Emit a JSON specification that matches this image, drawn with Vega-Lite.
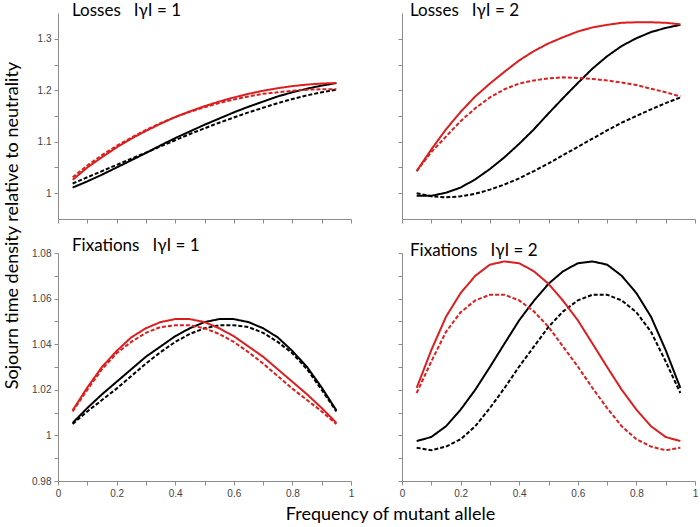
{
"$schema": "https://vega.github.io/schema/vega-lite/v6.json",
"padding": {"left": 3, "top": 2, "right": 2, "bottom": 2},
"background": "white",
"datasets": {
"curves": [
{"event":"Losses","gamma":1,"group":"B","method":"exact","freq":0.05,"density":1.011},
{"event":"Losses","gamma":1,"group":"B","method":"exact","freq":0.1,"density":1.023},
{"event":"Losses","gamma":1,"group":"B","method":"exact","freq":0.15,"density":1.036},
{"event":"Losses","gamma":1,"group":"B","method":"exact","freq":0.2,"density":1.05},
{"event":"Losses","gamma":1,"group":"B","method":"exact","freq":0.25,"density":1.064},
{"event":"Losses","gamma":1,"group":"B","method":"exact","freq":0.3,"density":1.078},
{"event":"Losses","gamma":1,"group":"B","method":"exact","freq":0.35,"density":1.093},
{"event":"Losses","gamma":1,"group":"B","method":"exact","freq":0.4,"density":1.107},
{"event":"Losses","gamma":1,"group":"B","method":"exact","freq":0.45,"density":1.12},
{"event":"Losses","gamma":1,"group":"B","method":"exact","freq":0.5,"density":1.133},
{"event":"Losses","gamma":1,"group":"B","method":"exact","freq":0.55,"density":1.145},
{"event":"Losses","gamma":1,"group":"B","method":"exact","freq":0.6,"density":1.157},
{"event":"Losses","gamma":1,"group":"B","method":"exact","freq":0.65,"density":1.168},
{"event":"Losses","gamma":1,"group":"B","method":"exact","freq":0.7,"density":1.178},
{"event":"Losses","gamma":1,"group":"B","method":"exact","freq":0.75,"density":1.188},
{"event":"Losses","gamma":1,"group":"B","method":"exact","freq":0.8,"density":1.196},
{"event":"Losses","gamma":1,"group":"B","method":"exact","freq":0.85,"density":1.203},
{"event":"Losses","gamma":1,"group":"B","method":"exact","freq":0.9,"density":1.209},
{"event":"Losses","gamma":1,"group":"B","method":"exact","freq":0.95,"density":1.214},
{"event":"Losses","gamma":1,"group":"B","method":"approx","freq":0.05,"density":1.019},
{"event":"Losses","gamma":1,"group":"B","method":"approx","freq":0.1,"density":1.031},
{"event":"Losses","gamma":1,"group":"B","method":"approx","freq":0.15,"density":1.043},
{"event":"Losses","gamma":1,"group":"B","method":"approx","freq":0.2,"density":1.055},
{"event":"Losses","gamma":1,"group":"B","method":"approx","freq":0.25,"density":1.067},
{"event":"Losses","gamma":1,"group":"B","method":"approx","freq":0.3,"density":1.079},
{"event":"Losses","gamma":1,"group":"B","method":"approx","freq":0.35,"density":1.091},
{"event":"Losses","gamma":1,"group":"B","method":"approx","freq":0.4,"density":1.103},
{"event":"Losses","gamma":1,"group":"B","method":"approx","freq":0.45,"density":1.115},
{"event":"Losses","gamma":1,"group":"B","method":"approx","freq":0.5,"density":1.126},
{"event":"Losses","gamma":1,"group":"B","method":"approx","freq":0.55,"density":1.137},
{"event":"Losses","gamma":1,"group":"B","method":"approx","freq":0.6,"density":1.147},
{"event":"Losses","gamma":1,"group":"B","method":"approx","freq":0.65,"density":1.157},
{"event":"Losses","gamma":1,"group":"B","method":"approx","freq":0.7,"density":1.166},
{"event":"Losses","gamma":1,"group":"B","method":"approx","freq":0.75,"density":1.175},
{"event":"Losses","gamma":1,"group":"B","method":"approx","freq":0.8,"density":1.183},
{"event":"Losses","gamma":1,"group":"B","method":"approx","freq":0.85,"density":1.19},
{"event":"Losses","gamma":1,"group":"B","method":"approx","freq":0.9,"density":1.196},
{"event":"Losses","gamma":1,"group":"B","method":"approx","freq":0.95,"density":1.201},
{"event":"Losses","gamma":1,"group":"A","method":"exact","freq":0.05,"density":1.026},
{"event":"Losses","gamma":1,"group":"A","method":"exact","freq":0.1,"density":1.05},
{"event":"Losses","gamma":1,"group":"A","method":"exact","freq":0.15,"density":1.07},
{"event":"Losses","gamma":1,"group":"A","method":"exact","freq":0.2,"density":1.089},
{"event":"Losses","gamma":1,"group":"A","method":"exact","freq":0.25,"density":1.106},
{"event":"Losses","gamma":1,"group":"A","method":"exact","freq":0.3,"density":1.121},
{"event":"Losses","gamma":1,"group":"A","method":"exact","freq":0.35,"density":1.135},
{"event":"Losses","gamma":1,"group":"A","method":"exact","freq":0.4,"density":1.148},
{"event":"Losses","gamma":1,"group":"A","method":"exact","freq":0.45,"density":1.159},
{"event":"Losses","gamma":1,"group":"A","method":"exact","freq":0.5,"density":1.169},
{"event":"Losses","gamma":1,"group":"A","method":"exact","freq":0.55,"density":1.178},
{"event":"Losses","gamma":1,"group":"A","method":"exact","freq":0.6,"density":1.186},
{"event":"Losses","gamma":1,"group":"A","method":"exact","freq":0.65,"density":1.193},
{"event":"Losses","gamma":1,"group":"A","method":"exact","freq":0.7,"density":1.199},
{"event":"Losses","gamma":1,"group":"A","method":"exact","freq":0.75,"density":1.204},
{"event":"Losses","gamma":1,"group":"A","method":"exact","freq":0.8,"density":1.208},
{"event":"Losses","gamma":1,"group":"A","method":"exact","freq":0.85,"density":1.211},
{"event":"Losses","gamma":1,"group":"A","method":"exact","freq":0.9,"density":1.213},
{"event":"Losses","gamma":1,"group":"A","method":"exact","freq":0.95,"density":1.214},
{"event":"Losses","gamma":1,"group":"A","method":"approx","freq":0.05,"density":1.031},
{"event":"Losses","gamma":1,"group":"A","method":"approx","freq":0.1,"density":1.054},
{"event":"Losses","gamma":1,"group":"A","method":"approx","freq":0.15,"density":1.074},
{"event":"Losses","gamma":1,"group":"A","method":"approx","freq":0.2,"density":1.092},
{"event":"Losses","gamma":1,"group":"A","method":"approx","freq":0.25,"density":1.108},
{"event":"Losses","gamma":1,"group":"A","method":"approx","freq":0.3,"density":1.123},
{"event":"Losses","gamma":1,"group":"A","method":"approx","freq":0.35,"density":1.136},
{"event":"Losses","gamma":1,"group":"A","method":"approx","freq":0.4,"density":1.148},
{"event":"Losses","gamma":1,"group":"A","method":"approx","freq":0.45,"density":1.158},
{"event":"Losses","gamma":1,"group":"A","method":"approx","freq":0.5,"density":1.167},
{"event":"Losses","gamma":1,"group":"A","method":"approx","freq":0.55,"density":1.175},
{"event":"Losses","gamma":1,"group":"A","method":"approx","freq":0.6,"density":1.182},
{"event":"Losses","gamma":1,"group":"A","method":"approx","freq":0.65,"density":1.188},
{"event":"Losses","gamma":1,"group":"A","method":"approx","freq":0.7,"density":1.193},
{"event":"Losses","gamma":1,"group":"A","method":"approx","freq":0.75,"density":1.196},
{"event":"Losses","gamma":1,"group":"A","method":"approx","freq":0.8,"density":1.199},
{"event":"Losses","gamma":1,"group":"A","method":"approx","freq":0.85,"density":1.201},
{"event":"Losses","gamma":1,"group":"A","method":"approx","freq":0.9,"density":1.202},
{"event":"Losses","gamma":1,"group":"A","method":"approx","freq":0.95,"density":1.202},
{"event":"Losses","gamma":2,"group":"B","method":"exact","freq":0.05,"density":0.995},
{"event":"Losses","gamma":2,"group":"B","method":"exact","freq":0.1,"density":0.995},
{"event":"Losses","gamma":2,"group":"B","method":"exact","freq":0.15,"density":1.001},
{"event":"Losses","gamma":2,"group":"B","method":"exact","freq":0.2,"density":1.011},
{"event":"Losses","gamma":2,"group":"B","method":"exact","freq":0.25,"density":1.027},
{"event":"Losses","gamma":2,"group":"B","method":"exact","freq":0.3,"density":1.047},
{"event":"Losses","gamma":2,"group":"B","method":"exact","freq":0.35,"density":1.07},
{"event":"Losses","gamma":2,"group":"B","method":"exact","freq":0.4,"density":1.096},
{"event":"Losses","gamma":2,"group":"B","method":"exact","freq":0.45,"density":1.124},
{"event":"Losses","gamma":2,"group":"B","method":"exact","freq":0.5,"density":1.155},
{"event":"Losses","gamma":2,"group":"B","method":"exact","freq":0.55,"density":1.185},
{"event":"Losses","gamma":2,"group":"B","method":"exact","freq":0.6,"density":1.214},
{"event":"Losses","gamma":2,"group":"B","method":"exact","freq":0.65,"density":1.242},
{"event":"Losses","gamma":2,"group":"B","method":"exact","freq":0.7,"density":1.266},
{"event":"Losses","gamma":2,"group":"B","method":"exact","freq":0.75,"density":1.286},
{"event":"Losses","gamma":2,"group":"B","method":"exact","freq":0.8,"density":1.301},
{"event":"Losses","gamma":2,"group":"B","method":"exact","freq":0.85,"density":1.313},
{"event":"Losses","gamma":2,"group":"B","method":"exact","freq":0.9,"density":1.321},
{"event":"Losses","gamma":2,"group":"B","method":"exact","freq":0.95,"density":1.327},
{"event":"Losses","gamma":2,"group":"B","method":"approx","freq":0.05,"density":1.0},
{"event":"Losses","gamma":2,"group":"B","method":"approx","freq":0.1,"density":0.994},
{"event":"Losses","gamma":2,"group":"B","method":"approx","freq":0.15,"density":0.992},
{"event":"Losses","gamma":2,"group":"B","method":"approx","freq":0.2,"density":0.994},
{"event":"Losses","gamma":2,"group":"B","method":"approx","freq":0.25,"density":0.999},
{"event":"Losses","gamma":2,"group":"B","method":"approx","freq":0.3,"density":1.007},
{"event":"Losses","gamma":2,"group":"B","method":"approx","freq":0.35,"density":1.017},
{"event":"Losses","gamma":2,"group":"B","method":"approx","freq":0.4,"density":1.029},
{"event":"Losses","gamma":2,"group":"B","method":"approx","freq":0.45,"density":1.043},
{"event":"Losses","gamma":2,"group":"B","method":"approx","freq":0.5,"density":1.058},
{"event":"Losses","gamma":2,"group":"B","method":"approx","freq":0.55,"density":1.074},
{"event":"Losses","gamma":2,"group":"B","method":"approx","freq":0.6,"density":1.09},
{"event":"Losses","gamma":2,"group":"B","method":"approx","freq":0.65,"density":1.106},
{"event":"Losses","gamma":2,"group":"B","method":"approx","freq":0.7,"density":1.122},
{"event":"Losses","gamma":2,"group":"B","method":"approx","freq":0.75,"density":1.137},
{"event":"Losses","gamma":2,"group":"B","method":"approx","freq":0.8,"density":1.15},
{"event":"Losses","gamma":2,"group":"B","method":"approx","freq":0.85,"density":1.163},
{"event":"Losses","gamma":2,"group":"B","method":"approx","freq":0.9,"density":1.175},
{"event":"Losses","gamma":2,"group":"B","method":"approx","freq":0.95,"density":1.186},
{"event":"Losses","gamma":2,"group":"A","method":"exact","freq":0.05,"density":1.043},
{"event":"Losses","gamma":2,"group":"A","method":"exact","freq":0.1,"density":1.085},
{"event":"Losses","gamma":2,"group":"A","method":"exact","freq":0.15,"density":1.124},
{"event":"Losses","gamma":2,"group":"A","method":"exact","freq":0.2,"density":1.158},
{"event":"Losses","gamma":2,"group":"A","method":"exact","freq":0.25,"density":1.188},
{"event":"Losses","gamma":2,"group":"A","method":"exact","freq":0.3,"density":1.213},
{"event":"Losses","gamma":2,"group":"A","method":"exact","freq":0.35,"density":1.236},
{"event":"Losses","gamma":2,"group":"A","method":"exact","freq":0.4,"density":1.258},
{"event":"Losses","gamma":2,"group":"A","method":"exact","freq":0.45,"density":1.276},
{"event":"Losses","gamma":2,"group":"A","method":"exact","freq":0.5,"density":1.291},
{"event":"Losses","gamma":2,"group":"A","method":"exact","freq":0.55,"density":1.303},
{"event":"Losses","gamma":2,"group":"A","method":"exact","freq":0.6,"density":1.314},
{"event":"Losses","gamma":2,"group":"A","method":"exact","freq":0.65,"density":1.322},
{"event":"Losses","gamma":2,"group":"A","method":"exact","freq":0.7,"density":1.327},
{"event":"Losses","gamma":2,"group":"A","method":"exact","freq":0.75,"density":1.331},
{"event":"Losses","gamma":2,"group":"A","method":"exact","freq":0.8,"density":1.332},
{"event":"Losses","gamma":2,"group":"A","method":"exact","freq":0.85,"density":1.332},
{"event":"Losses","gamma":2,"group":"A","method":"exact","freq":0.9,"density":1.331},
{"event":"Losses","gamma":2,"group":"A","method":"exact","freq":0.95,"density":1.328},
{"event":"Losses","gamma":2,"group":"A","method":"approx","freq":0.05,"density":1.043},
{"event":"Losses","gamma":2,"group":"A","method":"approx","freq":0.1,"density":1.08},
{"event":"Losses","gamma":2,"group":"A","method":"approx","freq":0.15,"density":1.11},
{"event":"Losses","gamma":2,"group":"A","method":"approx","freq":0.2,"density":1.14},
{"event":"Losses","gamma":2,"group":"A","method":"approx","freq":0.25,"density":1.165},
{"event":"Losses","gamma":2,"group":"A","method":"approx","freq":0.3,"density":1.186},
{"event":"Losses","gamma":2,"group":"A","method":"approx","freq":0.35,"density":1.202},
{"event":"Losses","gamma":2,"group":"A","method":"approx","freq":0.4,"density":1.213},
{"event":"Losses","gamma":2,"group":"A","method":"approx","freq":0.45,"density":1.219},
{"event":"Losses","gamma":2,"group":"A","method":"approx","freq":0.5,"density":1.223},
{"event":"Losses","gamma":2,"group":"A","method":"approx","freq":0.55,"density":1.225},
{"event":"Losses","gamma":2,"group":"A","method":"approx","freq":0.6,"density":1.224},
{"event":"Losses","gamma":2,"group":"A","method":"approx","freq":0.65,"density":1.222},
{"event":"Losses","gamma":2,"group":"A","method":"approx","freq":0.7,"density":1.219},
{"event":"Losses","gamma":2,"group":"A","method":"approx","freq":0.75,"density":1.215},
{"event":"Losses","gamma":2,"group":"A","method":"approx","freq":0.8,"density":1.21},
{"event":"Losses","gamma":2,"group":"A","method":"approx","freq":0.85,"density":1.203},
{"event":"Losses","gamma":2,"group":"A","method":"approx","freq":0.9,"density":1.196},
{"event":"Losses","gamma":2,"group":"A","method":"approx","freq":0.95,"density":1.188},
{"event":"Fixations","gamma":1,"group":"B","method":"exact","freq":0.05,"density":1.0055},
{"event":"Fixations","gamma":1,"group":"B","method":"exact","freq":0.1,"density":1.012},
{"event":"Fixations","gamma":1,"group":"B","method":"exact","freq":0.15,"density":1.018},
{"event":"Fixations","gamma":1,"group":"B","method":"exact","freq":0.2,"density":1.0235},
{"event":"Fixations","gamma":1,"group":"B","method":"exact","freq":0.25,"density":1.029},
{"event":"Fixations","gamma":1,"group":"B","method":"exact","freq":0.3,"density":1.0345},
{"event":"Fixations","gamma":1,"group":"B","method":"exact","freq":0.35,"density":1.039},
{"event":"Fixations","gamma":1,"group":"B","method":"exact","freq":0.4,"density":1.0435},
{"event":"Fixations","gamma":1,"group":"B","method":"exact","freq":0.45,"density":1.047},
{"event":"Fixations","gamma":1,"group":"B","method":"exact","freq":0.5,"density":1.0497},
{"event":"Fixations","gamma":1,"group":"B","method":"exact","freq":0.55,"density":1.051},
{"event":"Fixations","gamma":1,"group":"B","method":"exact","freq":0.6,"density":1.051},
{"event":"Fixations","gamma":1,"group":"B","method":"exact","freq":0.65,"density":1.0497},
{"event":"Fixations","gamma":1,"group":"B","method":"exact","freq":0.7,"density":1.047},
{"event":"Fixations","gamma":1,"group":"B","method":"exact","freq":0.75,"density":1.043},
{"event":"Fixations","gamma":1,"group":"B","method":"exact","freq":0.8,"density":1.037},
{"event":"Fixations","gamma":1,"group":"B","method":"exact","freq":0.85,"density":1.03},
{"event":"Fixations","gamma":1,"group":"B","method":"exact","freq":0.9,"density":1.021},
{"event":"Fixations","gamma":1,"group":"B","method":"exact","freq":0.95,"density":1.011},
{"event":"Fixations","gamma":1,"group":"B","method":"approx","freq":0.05,"density":1.005},
{"event":"Fixations","gamma":1,"group":"B","method":"approx","freq":0.1,"density":1.0105},
{"event":"Fixations","gamma":1,"group":"B","method":"approx","freq":0.15,"density":1.0155},
{"event":"Fixations","gamma":1,"group":"B","method":"approx","freq":0.2,"density":1.0205},
{"event":"Fixations","gamma":1,"group":"B","method":"approx","freq":0.25,"density":1.026},
{"event":"Fixations","gamma":1,"group":"B","method":"approx","freq":0.3,"density":1.0315},
{"event":"Fixations","gamma":1,"group":"B","method":"approx","freq":0.35,"density":1.0365},
{"event":"Fixations","gamma":1,"group":"B","method":"approx","freq":0.4,"density":1.041},
{"event":"Fixations","gamma":1,"group":"B","method":"approx","freq":0.45,"density":1.0445},
{"event":"Fixations","gamma":1,"group":"B","method":"approx","freq":0.5,"density":1.047},
{"event":"Fixations","gamma":1,"group":"B","method":"approx","freq":0.55,"density":1.0483},
{"event":"Fixations","gamma":1,"group":"B","method":"approx","freq":0.6,"density":1.0483},
{"event":"Fixations","gamma":1,"group":"B","method":"approx","freq":0.65,"density":1.0475},
{"event":"Fixations","gamma":1,"group":"B","method":"approx","freq":0.7,"density":1.045},
{"event":"Fixations","gamma":1,"group":"B","method":"approx","freq":0.75,"density":1.041},
{"event":"Fixations","gamma":1,"group":"B","method":"approx","freq":0.8,"density":1.036},
{"event":"Fixations","gamma":1,"group":"B","method":"approx","freq":0.85,"density":1.029},
{"event":"Fixations","gamma":1,"group":"B","method":"approx","freq":0.9,"density":1.02},
{"event":"Fixations","gamma":1,"group":"B","method":"approx","freq":0.95,"density":1.0105},
{"event":"Fixations","gamma":1,"group":"A","method":"exact","freq":0.05,"density":1.011},
{"event":"Fixations","gamma":1,"group":"A","method":"exact","freq":0.1,"density":1.021},
{"event":"Fixations","gamma":1,"group":"A","method":"exact","freq":0.15,"density":1.03},
{"event":"Fixations","gamma":1,"group":"A","method":"exact","freq":0.2,"density":1.037},
{"event":"Fixations","gamma":1,"group":"A","method":"exact","freq":0.25,"density":1.043},
{"event":"Fixations","gamma":1,"group":"A","method":"exact","freq":0.3,"density":1.047},
{"event":"Fixations","gamma":1,"group":"A","method":"exact","freq":0.35,"density":1.0497},
{"event":"Fixations","gamma":1,"group":"A","method":"exact","freq":0.4,"density":1.051},
{"event":"Fixations","gamma":1,"group":"A","method":"exact","freq":0.45,"density":1.051},
{"event":"Fixations","gamma":1,"group":"A","method":"exact","freq":0.5,"density":1.0497},
{"event":"Fixations","gamma":1,"group":"A","method":"exact","freq":0.55,"density":1.047},
{"event":"Fixations","gamma":1,"group":"A","method":"exact","freq":0.6,"density":1.0435},
{"event":"Fixations","gamma":1,"group":"A","method":"exact","freq":0.65,"density":1.039},
{"event":"Fixations","gamma":1,"group":"A","method":"exact","freq":0.7,"density":1.0345},
{"event":"Fixations","gamma":1,"group":"A","method":"exact","freq":0.75,"density":1.029},
{"event":"Fixations","gamma":1,"group":"A","method":"exact","freq":0.8,"density":1.0235},
{"event":"Fixations","gamma":1,"group":"A","method":"exact","freq":0.85,"density":1.018},
{"event":"Fixations","gamma":1,"group":"A","method":"exact","freq":0.9,"density":1.012},
{"event":"Fixations","gamma":1,"group":"A","method":"exact","freq":0.95,"density":1.0055},
{"event":"Fixations","gamma":1,"group":"A","method":"approx","freq":0.05,"density":1.0105},
{"event":"Fixations","gamma":1,"group":"A","method":"approx","freq":0.1,"density":1.02},
{"event":"Fixations","gamma":1,"group":"A","method":"approx","freq":0.15,"density":1.029},
{"event":"Fixations","gamma":1,"group":"A","method":"approx","freq":0.2,"density":1.036},
{"event":"Fixations","gamma":1,"group":"A","method":"approx","freq":0.25,"density":1.041},
{"event":"Fixations","gamma":1,"group":"A","method":"approx","freq":0.3,"density":1.045},
{"event":"Fixations","gamma":1,"group":"A","method":"approx","freq":0.35,"density":1.0475},
{"event":"Fixations","gamma":1,"group":"A","method":"approx","freq":0.4,"density":1.0483},
{"event":"Fixations","gamma":1,"group":"A","method":"approx","freq":0.45,"density":1.0483},
{"event":"Fixations","gamma":1,"group":"A","method":"approx","freq":0.5,"density":1.047},
{"event":"Fixations","gamma":1,"group":"A","method":"approx","freq":0.55,"density":1.0445},
{"event":"Fixations","gamma":1,"group":"A","method":"approx","freq":0.6,"density":1.041},
{"event":"Fixations","gamma":1,"group":"A","method":"approx","freq":0.65,"density":1.0365},
{"event":"Fixations","gamma":1,"group":"A","method":"approx","freq":0.7,"density":1.0315},
{"event":"Fixations","gamma":1,"group":"A","method":"approx","freq":0.75,"density":1.026},
{"event":"Fixations","gamma":1,"group":"A","method":"approx","freq":0.8,"density":1.0205},
{"event":"Fixations","gamma":1,"group":"A","method":"approx","freq":0.85,"density":1.0155},
{"event":"Fixations","gamma":1,"group":"A","method":"approx","freq":0.9,"density":1.0105},
{"event":"Fixations","gamma":1,"group":"A","method":"approx","freq":0.95,"density":1.005},
{"event":"Fixations","gamma":2,"group":"B","method":"exact","freq":0.05,"density":0.9975},
{"event":"Fixations","gamma":2,"group":"B","method":"exact","freq":0.1,"density":0.9993},
{"event":"Fixations","gamma":2,"group":"B","method":"exact","freq":0.15,"density":1.004},
{"event":"Fixations","gamma":2,"group":"B","method":"exact","freq":0.2,"density":1.0113},
{"event":"Fixations","gamma":2,"group":"B","method":"exact","freq":0.25,"density":1.02},
{"event":"Fixations","gamma":2,"group":"B","method":"exact","freq":0.3,"density":1.03},
{"event":"Fixations","gamma":2,"group":"B","method":"exact","freq":0.35,"density":1.0403},
{"event":"Fixations","gamma":2,"group":"B","method":"exact","freq":0.4,"density":1.0505},
{"event":"Fixations","gamma":2,"group":"B","method":"exact","freq":0.45,"density":1.059},
{"event":"Fixations","gamma":2,"group":"B","method":"exact","freq":0.5,"density":1.0665},
{"event":"Fixations","gamma":2,"group":"B","method":"exact","freq":0.55,"density":1.072},
{"event":"Fixations","gamma":2,"group":"B","method":"exact","freq":0.6,"density":1.0755},
{"event":"Fixations","gamma":2,"group":"B","method":"exact","freq":0.65,"density":1.0763},
{"event":"Fixations","gamma":2,"group":"B","method":"exact","freq":0.7,"density":1.0749},
{"event":"Fixations","gamma":2,"group":"B","method":"exact","freq":0.75,"density":1.07},
{"event":"Fixations","gamma":2,"group":"B","method":"exact","freq":0.8,"density":1.0624},
{"event":"Fixations","gamma":2,"group":"B","method":"exact","freq":0.85,"density":1.052},
{"event":"Fixations","gamma":2,"group":"B","method":"exact","freq":0.9,"density":1.0374},
{"event":"Fixations","gamma":2,"group":"B","method":"exact","freq":0.95,"density":1.0208},
{"event":"Fixations","gamma":2,"group":"B","method":"approx","freq":0.05,"density":0.9946},
{"event":"Fixations","gamma":2,"group":"B","method":"approx","freq":0.1,"density":0.9935},
{"event":"Fixations","gamma":2,"group":"B","method":"approx","freq":0.15,"density":0.9951},
{"event":"Fixations","gamma":2,"group":"B","method":"approx","freq":0.2,"density":0.9983},
{"event":"Fixations","gamma":2,"group":"B","method":"approx","freq":0.25,"density":1.004},
{"event":"Fixations","gamma":2,"group":"B","method":"approx","freq":0.3,"density":1.012},
{"event":"Fixations","gamma":2,"group":"B","method":"approx","freq":0.35,"density":1.0208},
{"event":"Fixations","gamma":2,"group":"B","method":"approx","freq":0.4,"density":1.0302},
{"event":"Fixations","gamma":2,"group":"B","method":"approx","freq":0.45,"density":1.0389},
{"event":"Fixations","gamma":2,"group":"B","method":"approx","freq":0.5,"density":1.0476},
{"event":"Fixations","gamma":2,"group":"B","method":"approx","freq":0.55,"density":1.0544},
{"event":"Fixations","gamma":2,"group":"B","method":"approx","freq":0.6,"density":1.0592},
{"event":"Fixations","gamma":2,"group":"B","method":"approx","freq":0.65,"density":1.0617},
{"event":"Fixations","gamma":2,"group":"B","method":"approx","freq":0.7,"density":1.0617},
{"event":"Fixations","gamma":2,"group":"B","method":"approx","freq":0.75,"density":1.0592},
{"event":"Fixations","gamma":2,"group":"B","method":"approx","freq":0.8,"density":1.054},
{"event":"Fixations","gamma":2,"group":"B","method":"approx","freq":0.85,"density":1.0454},
{"event":"Fixations","gamma":2,"group":"B","method":"approx","freq":0.9,"density":1.0324},
{"event":"Fixations","gamma":2,"group":"B","method":"approx","freq":0.95,"density":1.0186},
{"event":"Fixations","gamma":2,"group":"A","method":"exact","freq":0.05,"density":1.0208},
{"event":"Fixations","gamma":2,"group":"A","method":"exact","freq":0.1,"density":1.0374},
{"event":"Fixations","gamma":2,"group":"A","method":"exact","freq":0.15,"density":1.052},
{"event":"Fixations","gamma":2,"group":"A","method":"exact","freq":0.2,"density":1.0624},
{"event":"Fixations","gamma":2,"group":"A","method":"exact","freq":0.25,"density":1.07},
{"event":"Fixations","gamma":2,"group":"A","method":"exact","freq":0.3,"density":1.0749},
{"event":"Fixations","gamma":2,"group":"A","method":"exact","freq":0.35,"density":1.0763},
{"event":"Fixations","gamma":2,"group":"A","method":"exact","freq":0.4,"density":1.0755},
{"event":"Fixations","gamma":2,"group":"A","method":"exact","freq":0.45,"density":1.072},
{"event":"Fixations","gamma":2,"group":"A","method":"exact","freq":0.5,"density":1.0665},
{"event":"Fixations","gamma":2,"group":"A","method":"exact","freq":0.55,"density":1.059},
{"event":"Fixations","gamma":2,"group":"A","method":"exact","freq":0.6,"density":1.0505},
{"event":"Fixations","gamma":2,"group":"A","method":"exact","freq":0.65,"density":1.0403},
{"event":"Fixations","gamma":2,"group":"A","method":"exact","freq":0.7,"density":1.03},
{"event":"Fixations","gamma":2,"group":"A","method":"exact","freq":0.75,"density":1.02},
{"event":"Fixations","gamma":2,"group":"A","method":"exact","freq":0.8,"density":1.0113},
{"event":"Fixations","gamma":2,"group":"A","method":"exact","freq":0.85,"density":1.004},
{"event":"Fixations","gamma":2,"group":"A","method":"exact","freq":0.9,"density":0.9993},
{"event":"Fixations","gamma":2,"group":"A","method":"exact","freq":0.95,"density":0.9975},
{"event":"Fixations","gamma":2,"group":"A","method":"approx","freq":0.05,"density":1.0186},
{"event":"Fixations","gamma":2,"group":"A","method":"approx","freq":0.1,"density":1.0324},
{"event":"Fixations","gamma":2,"group":"A","method":"approx","freq":0.15,"density":1.0454},
{"event":"Fixations","gamma":2,"group":"A","method":"approx","freq":0.2,"density":1.054},
{"event":"Fixations","gamma":2,"group":"A","method":"approx","freq":0.25,"density":1.0592},
{"event":"Fixations","gamma":2,"group":"A","method":"approx","freq":0.3,"density":1.0617},
{"event":"Fixations","gamma":2,"group":"A","method":"approx","freq":0.35,"density":1.0617},
{"event":"Fixations","gamma":2,"group":"A","method":"approx","freq":0.4,"density":1.0592},
{"event":"Fixations","gamma":2,"group":"A","method":"approx","freq":0.45,"density":1.0544},
{"event":"Fixations","gamma":2,"group":"A","method":"approx","freq":0.5,"density":1.0476},
{"event":"Fixations","gamma":2,"group":"A","method":"approx","freq":0.55,"density":1.0389},
{"event":"Fixations","gamma":2,"group":"A","method":"approx","freq":0.6,"density":1.0302},
{"event":"Fixations","gamma":2,"group":"A","method":"approx","freq":0.65,"density":1.0208},
{"event":"Fixations","gamma":2,"group":"A","method":"approx","freq":0.7,"density":1.012},
{"event":"Fixations","gamma":2,"group":"A","method":"approx","freq":0.75,"density":1.004},
{"event":"Fixations","gamma":2,"group":"A","method":"approx","freq":0.8,"density":0.9983},
{"event":"Fixations","gamma":2,"group":"A","method":"approx","freq":0.85,"density":0.9951},
{"event":"Fixations","gamma":2,"group":"A","method":"approx","freq":0.9,"density":0.9935},
{"event":"Fixations","gamma":2,"group":"A","method":"approx","freq":0.95,"density":0.9946}
]
},
"columns": 2,
"spacing": {"row": 34, "column": 51},
"bounds": "flush",
"concat": [
{
"width": 293, "height": 206,
"title": {"text": "Losses\u00a0\u00a0\u00a0IγI = 1", "dx": 14},
"data": {"name": "curves"},
"transform": [{"filter": "datum.event === 'Losses' && datum.gamma === 1"}],
"mark": {"type": "line", "strokeWidth": 2},
"encoding": {
"x": {"field": "freq", "type": "quantitative", "scale": {"domain": [0, 1], "nice": false},
"axis": {"title": null, "values": [0,0.1,0.2,0.3,0.4,0.5,0.6,0.7,0.8,0.9,1], "labels": false}},
"y": {"field": "density", "type": "quantitative", "scale": {"domain": [0.95, 1.35], "nice": false, "zero": false},
"axis": {"title": "Sojourn time density relative to neutrality", "titleX": -46, "titleY": 212, "titleAngle": -90, "titleAlign": "center", "titleBaseline": "middle",
"values": [1,1.05,1.1,1.15,1.2,1.25,1.3], "format": "~g",
"labelExpr": "abs(datum.value*10 - round(datum.value*10)) < 0.001 ? datum.label : ''"}},
"color": {"field": "group", "type": "nominal", "scale": {"domain": ["A", "B"], "range": ["#dc1e1e", "#000000"]}, "legend": null},
"strokeDash": {"field": "method", "type": "nominal", "scale": {"domain": ["exact", "approx"], "range": [[1, 0], [4, 2]]}, "legend": null}
}
},
{
"width": 293, "height": 206,
"title": {"text": "Losses\u00a0\u00a0\u00a0IγI = 2", "dx": 8},
"data": {"name": "curves"},
"transform": [{"filter": "datum.event === 'Losses' && datum.gamma === 2"}],
"mark": {"type": "line", "strokeWidth": 2},
"encoding": {
"x": {"field": "freq", "type": "quantitative", "scale": {"domain": [0, 1], "nice": false},
"axis": {"title": null, "values": [0,0.1,0.2,0.3,0.4,0.5,0.6,0.7,0.8,0.9,1], "labels": false}},
"y": {"field": "density", "type": "quantitative", "scale": {"domain": [0.95, 1.35], "nice": false, "zero": false},
"axis": {"title": null, "values": [1,1.05,1.1,1.15,1.2,1.25,1.3], "labels": false}},
"color": {"field": "group", "type": "nominal", "scale": {"domain": ["A", "B"], "range": ["#dc1e1e", "#000000"]}, "legend": null},
"strokeDash": {"field": "method", "type": "nominal", "scale": {"domain": ["exact", "approx"], "range": [[1, 0], [4, 2]]}, "legend": null}
}
},
{
"width": 293, "height": 228,
"title": {"text": "Fixations\u00a0\u00a0\u00a0IγI = 1", "dx": 14},
"data": {"name": "curves"},
"transform": [{"filter": "datum.event === 'Fixations' && datum.gamma === 1"}],
"mark": {"type": "line", "strokeWidth": 2},
"encoding": {
"x": {"field": "freq", "type": "quantitative", "scale": {"domain": [0, 1], "nice": false},
"axis": {"title": "Frequency of mutant allele", "titleX": 332, "titleY": 38, "titleAlign": "center", "titleBaseline": "alphabetic",
"values": [0,0.1,0.2,0.3,0.4,0.5,0.6,0.7,0.8,0.9,1], "format": "~g",
"labelExpr": "round(datum.value*10) % 2 === 0 ? datum.label : ''"}},
"y": {"field": "density", "type": "quantitative", "scale": {"domain": [0.98, 1.08], "nice": false, "zero": false},
"axis": {"title": null, "values": [0.98,0.99,1,1.01,1.02,1.03,1.04,1.05,1.06,1.07,1.08], "format": "~g",
"labelExpr": "round(datum.value*100) % 2 === 0 ? datum.label : ''"}},
"color": {"field": "group", "type": "nominal", "scale": {"domain": ["A", "B"], "range": ["#dc1e1e", "#000000"]}, "legend": null},
"strokeDash": {"field": "method", "type": "nominal", "scale": {"domain": ["exact", "approx"], "range": [[1, 0], [4, 2]]}, "legend": null}
}
},
{
"width": 293, "height": 228,
"title": {"text": "Fixations\u00a0\u00a0\u00a0IγI = 2", "dx": 8},
"data": {"name": "curves"},
"transform": [{"filter": "datum.event === 'Fixations' && datum.gamma === 2"}],
"mark": {"type": "line", "strokeWidth": 2},
"encoding": {
"x": {"field": "freq", "type": "quantitative", "scale": {"domain": [0, 1], "nice": false},
"axis": {"title": null, "values": [0,0.1,0.2,0.3,0.4,0.5,0.6,0.7,0.8,0.9,1], "format": "~g",
"labelExpr": "round(datum.value*10) % 2 === 0 ? datum.label : ''"}},
"y": {"field": "density", "type": "quantitative", "scale": {"domain": [0.98, 1.08], "nice": false, "zero": false},
"axis": {"title": null, "values": [0.98,0.99,1,1.01,1.02,1.03,1.04,1.05,1.06,1.07,1.08], "labels": false}},
"color": {"field": "group", "type": "nominal", "scale": {"domain": ["A", "B"], "range": ["#dc1e1e", "#000000"]}, "legend": null},
"strokeDash": {"field": "method", "type": "nominal", "scale": {"domain": ["exact", "approx"], "range": [[1, 0], [4, 2]]}, "legend": null}
}
}
],
"config": {
"view": {"stroke": null},
"axis": {"grid": false, "domainColor": "#8c8c8c", "tickColor": "#8c8c8c", "tickSize": 4, "labelFont": "Liberation Sans", "labelFontSize": 10, "labelColor": "#444444", "labelPadding": 3, "titleFont": "Lato", "titleFontSize": 18, "titleFontWeight": "normal", "titleColor": "#000000", "labelFlush": false, "labelOverlap": false, "labelBound": false},
"title": {"font": "Lato", "fontSize": 17, "fontWeight": "normal", "color": "#000000", "anchor": "start", "frame": "group", "offset": -7, "baseline": "alphabetic"}
}
}
